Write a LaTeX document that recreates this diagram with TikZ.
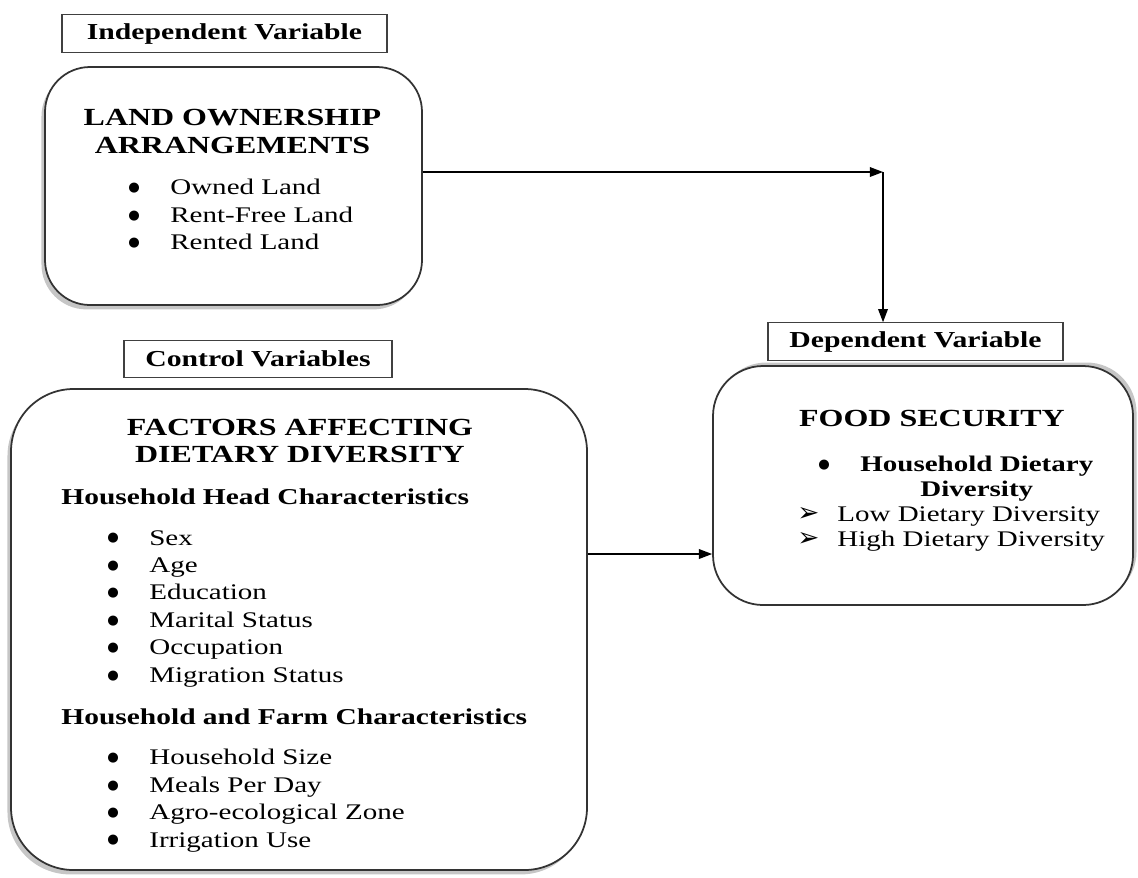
\documentclass[tikz,border=0pt]{standalone}
\usepackage{fontspec}
\setmainfont{Liberation Serif}[FakeStretch=1.3]
\newfontfamily\dingfont{DejaVu Sans}
\usetikzlibrary{arrows.meta,shadows}

\newcommand{\itembul}{\makebox[0.84cm][l]{\raisebox{1.8pt}{\dingfont\fontsize{7.5}{7.5}\selectfont ●}}}
\newcommand{\itemtip}{\makebox[0.80cm][l]{{\dingfont\fontsize{15}{15}\selectfont ➢}}}

\begin{document}
\begin{tikzpicture}[
    varlabel/.style={rectangle, draw=black!75, line width=0.6pt, inner sep=0pt, minimum height=0.75cm, font=\fontsize{13}{15}\selectfont\bfseries},
    panel/.style={rectangle, rounded corners=1cm, draw=black!80, line width=1pt, fill=white, inner sep=0pt},
    heading/.style={align=center, inner sep=0pt, font=\fontsize{14}{15.9}\selectfont\bfseries},
    subhead/.style={anchor=west, inner sep=0pt, font=\fontsize{12.9}{15}\selectfont\bfseries},
    items/.style={anchor=north west, align=left, inner sep=0pt, font=\fontsize{12.7}{15.6}\selectfont},
    >={Triangle[length=7.5pt,width=5.5pt]}
]
\useasboundingbox (0,0) rectangle (22.76,-17.54);

\node[varlabel, minimum width=6.5cm] (indep) at (4.49,-0.67) {Independent Variable};
\node[panel, minimum width=7.54cm, minimum height=4.76cm, rounded corners=0.9cm,
      drop shadow={shadow xshift=-2pt, shadow yshift=-2.5pt, opacity=0.45}] (land) at (4.67,-3.72) {};
\node[heading] (landtitle) at (4.65,-2.62) {LAND OWNERSHIP\\ARRANGEMENTS};
\node[items] (landlist) at (2.56,-3.58) {\itembul Owned Land\\\itembul Rent-Free Land\\\itembul Rented Land};

\node[varlabel, minimum width=5.36cm] (control) at (5.16,-7.18) {Control Variables};
\node[panel, minimum width=11.52cm, minimum height=9.62cm, rounded corners=1.25cm,
      drop shadow={shadow xshift=-2pt, shadow yshift=-2.5pt, opacity=0.45}] (factors) at (5.98,-12.59) {};
\node[heading] (factortitle) at (6.0,-8.82) {FACTORS AFFECTING\\DIETARY DIVERSITY};
\node[subhead] (headchar) at (1.22,-9.94) {Household Head Characteristics};
\node[items] (headlist) at (2.14,-10.6) {\itembul Sex\\\itembul Age\\\itembul Education\\\itembul Marital Status\\\itembul Occupation\\\itembul Migration Status};
\node[subhead] (farmchar) at (1.22,-14.34) {Household and Farm Characteristics};
\node[items] (farmlist) at (2.14,-14.98) {\itembul Household Size\\\itembul Meals Per Day\\\itembul Agro-ecological Zone\\\itembul Irrigation Use};

\node[varlabel, minimum width=5.9cm] (dep) at (18.31,-6.83) {Dependent Variable};
\node[panel, minimum width=8.4cm, minimum height=4.78cm,
      drop shadow={shadow xshift=2pt, shadow yshift=2pt, opacity=0.45}] (food) at (18.46,-9.71) {};
\node[heading] (foodtitle) at (18.64,-8.36) {FOOD SECURITY};
\node[items, font=\fontsize{12.7}{14.2}\selectfont\bfseries] (fooditem) at (16.36,-9.07) {\itembul\begin{tabular}[t]{@{}c@{}}Household Dietary\\Diversity\end{tabular}};
\node[items, font=\fontsize{12.7}{14.7}\selectfont] (foodlist) at (15.94,-10.12) {\itemtip Low Dietary Diversity\\\itemtip High Dietary Diversity};

\coordinate (bend) at (17.66,-3.44);
\coordinate (lowarrow) at (0,-11.08);
\draw[->, line width=0.8pt] (land.east |- bend) -- (bend);
\draw[->, line width=0.8pt] (bend) -- (bend |- dep.north);
\draw[->, line width=0.8pt] (factors.east |- lowarrow) -- (food.west |- lowarrow);
\end{tikzpicture}
\end{document}
